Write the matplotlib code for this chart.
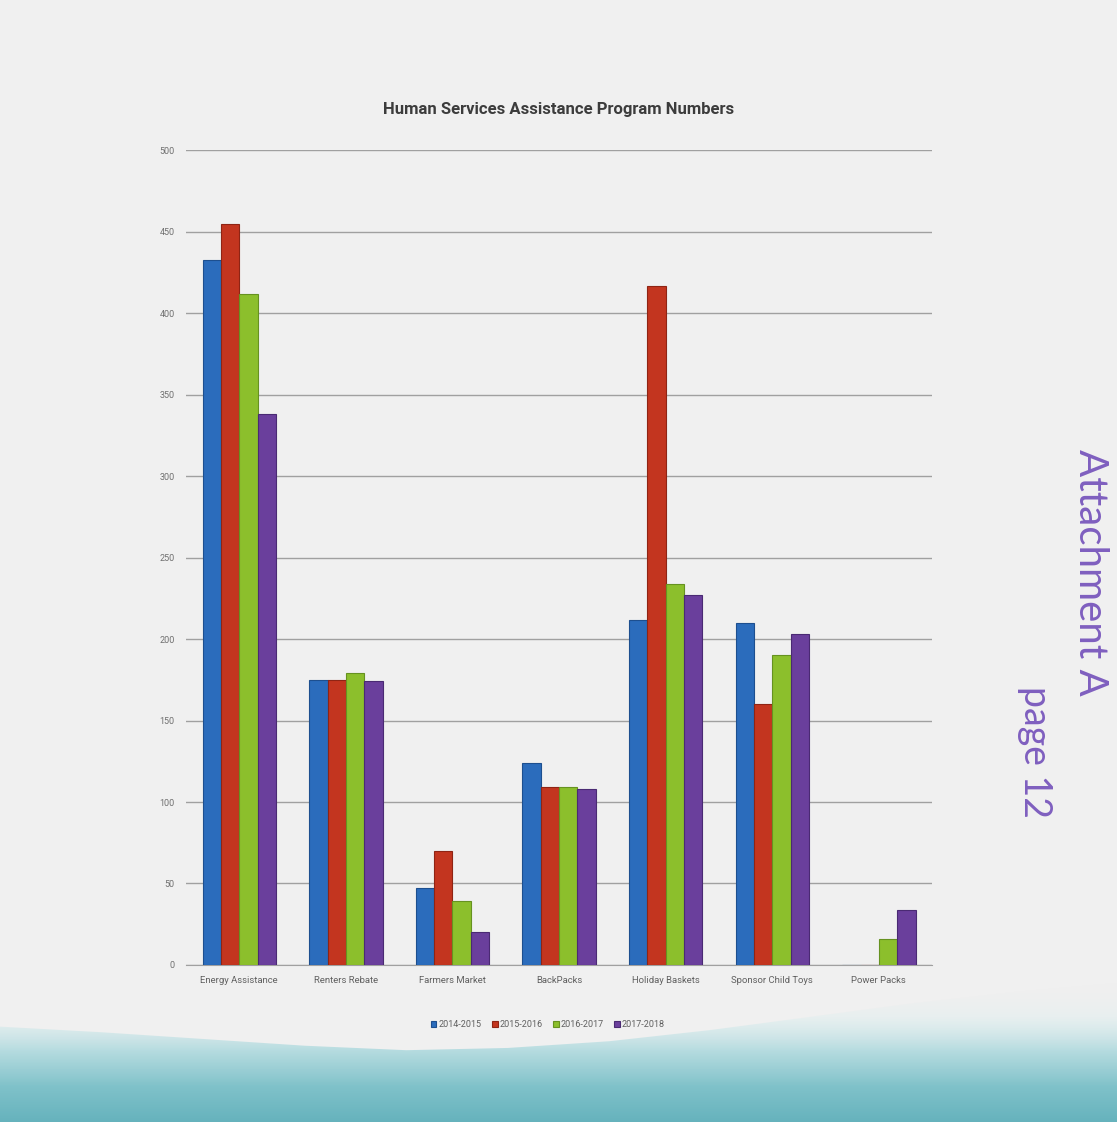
import numpy as np
import matplotlib
matplotlib.use("Agg")
import matplotlib.pyplot as plt
from matplotlib.patches import Polygon
from matplotlib.colors import LinearSegmentedColormap

# Program counts per fiscal year
categories = ["Energy Assistance", "Renters Rebate", "Farmers Market", "BackPacks",
              "Holiday Baskets", "Sponsor Child Toys", "Power Packs"]
fy_2014_2015 = [433, 175, 47, 124, 212, 210, 0]
fy_2015_2016 = [455, 175, 70, 109, 417, 160, 0]
fy_2016_2017 = [412, 179, 39, 109, 234, 190, 16]
fy_2017_2018 = [338, 174, 20, 108, 227, 203, 34]
series_labels = ["2014-2015", "2015-2016", "2016-2017", "2017-2018"]
yticks = [0, 50, 100, 150, 200, 250, 300, 350, 400, 450, 500]

colors = ["#2b6cbc", "#c3351f", "#8cbf2c", "#6a3f9c"]
edges = ["#1d4f8f", "#8f2414", "#669220", "#4a2a73"]
narrow = ["Liberation Sans Narrow", "Roboto", "DejaVu Sans"]

fig = plt.figure(figsize=(11.17, 11.22), dpi=100)
fig.patch.set_facecolor("#f0f0f0")

# teal wash along the bottom of the page
bg = fig.add_axes([0, 0, 1, 1], zorder=-1)
bg.set_xlim(0, 1)
bg.set_ylim(0, 1)
bg.axis("off")
xs = np.linspace(0, 1, 12)
edge_y = [0.085, 0.080, 0.074, 0.068, 0.064, 0.066, 0.072, 0.082, 0.094, 0.106, 0.116, 0.124]
band = Polygon(list(zip(xs, edge_y)) + [(1, 0), (0, 0)], closed=True,
               facecolor="none", edgecolor="none")
bg.add_patch(band)
wash = LinearSegmentedColormap.from_list(
    "wash", [(0.40, 0.70, 0.74, 1.0), (0.50, 0.76, 0.79, 1.0),
             (0.68, 0.85, 0.87, 0.9), (0.88, 0.94, 0.94, 0.5),
             (0.94, 0.94, 0.94, 0.0)])
grad = np.linspace(0, 1, 256).reshape(-1, 1)
img = bg.imshow(grad, extent=[0, 1, 0, 0.125], aspect="auto", cmap=wash,
                origin="lower")
img.set_clip_path(band)

ax = fig.add_axes([0.1665, 0.140, 0.668, 0.726])
ax.set_facecolor("none")

x = np.arange(len(categories))
width = 0.172
all_series = [fy_2014_2015, fy_2015_2016, fy_2016_2017, fy_2017_2018]
for i, vals in enumerate(all_series):
    offset = (i - 1.5) * width
    ax.bar(x + offset, vals, width, color=colors[i], edgecolor=edges[i],
           linewidth=0.8, label=series_labels[i], zorder=3)

ax.set_xlim(-0.5, len(categories) - 0.5)
ax.set_ylim(0, 500)
ax.set_yticks(yticks)
ax.set_yticklabels([str(v) for v in yticks], fontsize=6.5, color="#707070",
                   family=narrow)
ax.set_xticks(x)
ax.set_xticklabels(categories, fontsize=6.8, color="#606060", family=narrow)
ax.tick_params(axis="both", length=0, pad=8)
ax.yaxis.grid(True, color="#a0a0a0", linewidth=1.0, zorder=0)
for side in ["top", "right", "left"]:
    ax.spines[side].set_visible(False)
ax.spines["bottom"].set_color("#a0a0a0")

ax.set_title("Human Services Assistance Program Numbers", fontsize=12,
             fontweight="bold", color="#3c3c3c", pad=26, family=narrow)

ax.legend(loc="upper center", bbox_to_anchor=(0.485, -0.058), ncol=4,
          frameon=False, handlelength=0.6, handleheight=0.6,
          handletextpad=0.2, columnspacing=1.2, labelcolor="#606060",
          prop={"family": narrow, "size": 6.5})

# handwritten note in the margin
fig.text(0.976, 0.490, "Attachment A", rotation=270, ha="center", va="center",
         fontsize=29, color="#7f5fbf", family=["Lato", "DejaVu Sans"])
fig.text(0.927, 0.330, "page 12", rotation=270, ha="center", va="center",
         fontsize=27, color="#7f5fbf", family=["Lato", "DejaVu Sans"])

fig.savefig("out.png", dpi=100, facecolor=fig.get_facecolor())
